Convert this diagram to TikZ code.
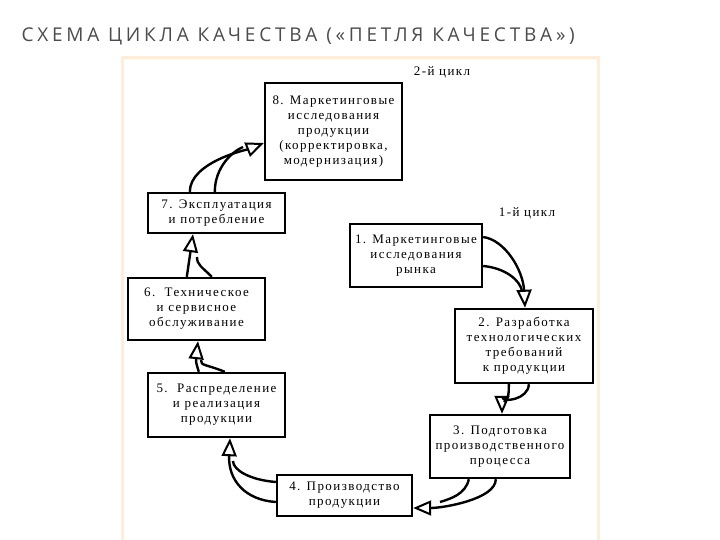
\documentclass[tikz,border=0pt]{standalone}
\usepackage{fontspec}
\setmainfont{Liberation Serif}[LetterSpace=11]
\newfontfamily\titlefont{Open Sans}[LetterSpace=20]
\usetikzlibrary{arrows.meta}
\begin{document}
\begin{tikzpicture}[x=1pt,y=-1pt,
  box/.style={draw,line width=2.4pt,align=center,font=\fontsize{13}{15}\selectfont,inner sep=0pt},
  ln/.style={line width=2.4pt},
  ar/.style={line width=2.4pt,-{Triangle[open,length=18pt,width=15pt,line width=2pt]}}]
\useasboundingbox (0,0) rectangle (720,540);
\fill[white] (0,0) rectangle (720,540);
\node[anchor=west,font=\titlefont\fontsize{19}{22}\selectfont,text=black!70] (title) at (18,36) {СХЕМА ЦИКЛА КАЧЕСТВА («ПЕТЛЯ КАЧЕСТВА»)};
\draw[draw=orange!15,line width=3pt,fill=white] (122,58) rectangle (598,542);
% boxes
\node[box,minimum width=137pt,minimum height=97pt] (b8) at (333.5,131.5) {8. Маркетинговые\\исследования\\продукции\\(корректировка,\\модернизация)};
\node[box,minimum width=137pt,minimum height=40pt] (b7) at (216.5,213) {7. Эксплуатация\\и потребление};
\node[box,minimum width=132pt,minimum height=63pt] (b1) at (416,255.5) {1. Маркетинговые\\исследования\\рынка};
\node[box,minimum width=137pt,minimum height=62pt] (b6) at (196.5,309) {6.\ \ Техническое\\и сервисное\\обслуживание};
\node[box,minimum width=138pt,minimum height=74pt] (b2) at (524,346) {2. Разработка\\технологических\\требований\\к продукции};
\node[box,minimum width=137pt,minimum height=64pt] (b5) at (216.5,405) {5.\ \ Распределение\\и реализация\\продукции};
\node[box,minimum width=140pt,minimum height=63pt] (b3) at (500,446.5) {3. Подготовка\\производственного\\процесса};
\node[box,minimum width=135pt,minimum height=41pt] (b4) at (344.5,495.5) {4. Производство\\продукции};
\node[font=\fontsize{13}{14}\selectfont] (c2) at (442,72) {2-й цикл};
\node[font=\fontsize{13}{14}\selectfont] (c1) at (527,213) {1-й цикл};
% 7 -> 8
\draw[ar] (b7.north west)++(43,0) .. controls +(0,-30) and +(-15,6) .. (b8.west |- 0,143);
\draw[ln] (b7.north west)++(68,0) .. controls +(0,-25) and +(-10,4) .. (243,147);
% 6 -> 7
\draw[ar] (b6.north west)++(60,0) -- (b7.south west -| 193,0);
\draw[ln] (b6.north west)++(85,0) .. controls +(-10,-10) and +(0,8) .. (197,257);
% 5 -> 6
\draw[ar] (b5.north west)++(52,0) .. controls +(-3,-10) .. (b6.south west -| 198,0);
\draw[ln] (b5.north west)++(78,0) .. controls +(-20,-8) and +(0,6) .. (201,360);
% 4 -> 5
\draw[ar] (b4.west |- 0,502) .. controls (245,500) and (228,480) .. (b5.south west -| 230,0);
\draw[ln] (b4.west |- 0,482) .. controls (250,480) and (233,470) .. (233,461);
% 3 -> 4
\draw[ar] (b3.south west)++(67,0) .. controls +(0,20) and +(30,0) .. (b4.east |- 0,508);
\draw[ln] (b3.south west)++(40,0) .. controls +(-3,15) and +(10,-3) .. (440,502);
% 2 -> 3
\draw[ar] (b2.south west)++(75,0) .. controls +(0,15) and +(0,-10) .. (b3.north west -| 502,0);
\draw[ln] (b2.south west)++(55,0) .. controls +(0,12) .. (504,402);
% 1 -> 2
\draw[ar] (b1.east |- 0,237) .. controls (505,240) and (523,270) .. (b2.north west -| 525,0);
\draw[ln] (b1.east |- 0,266) .. controls (505,268) and (520,280) .. (522,291);
\end{tikzpicture}
\end{document}
